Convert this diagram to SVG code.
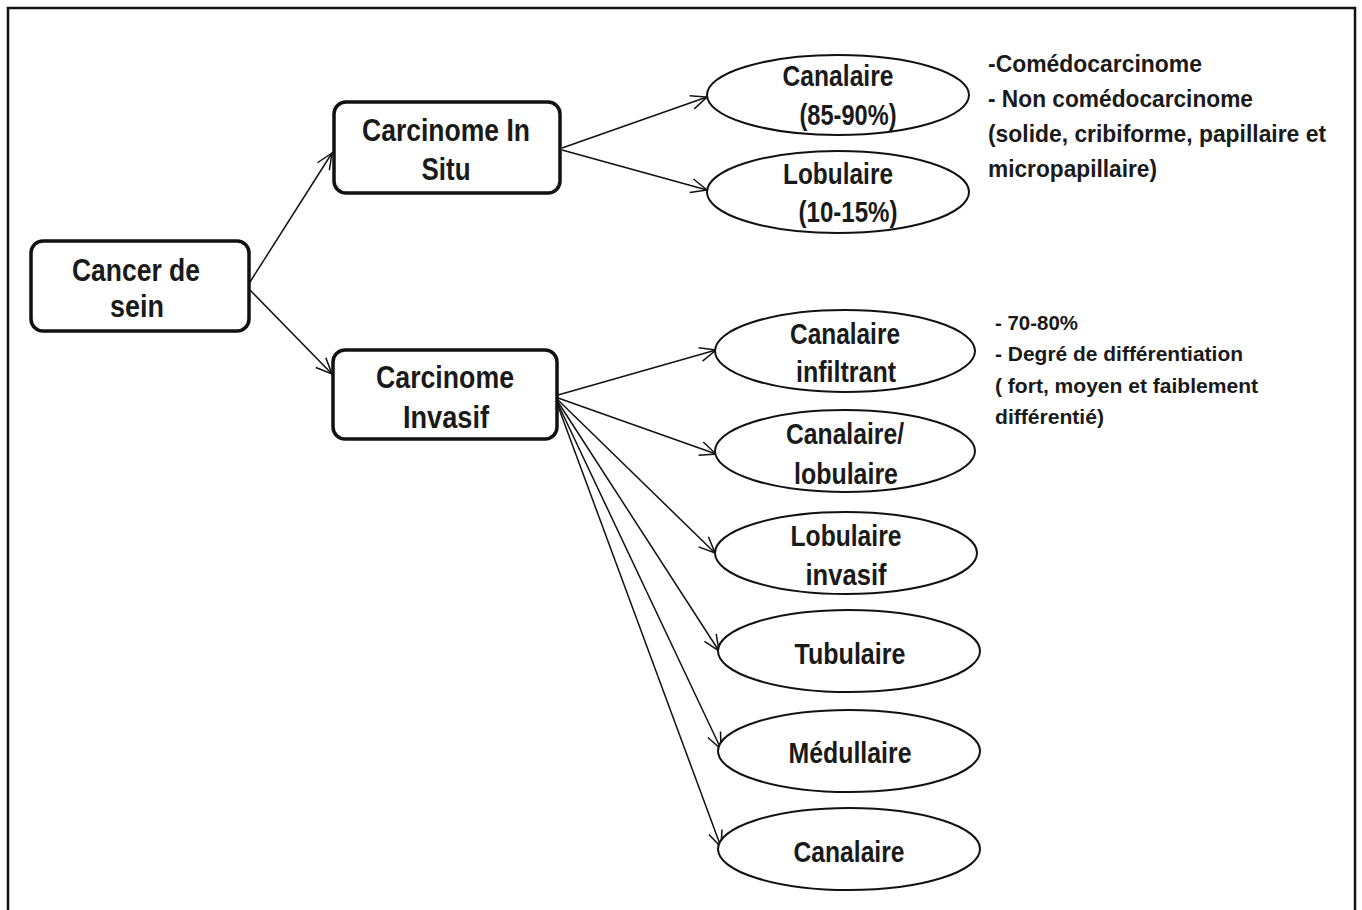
<svg xmlns="http://www.w3.org/2000/svg" width="1362" height="910" viewBox="0 0 1362 910">
<style>
.box{fill:#fff;stroke:#111;stroke-width:3.5}
.ell{fill:#fff;stroke:#111;stroke-width:2}
.t{font-family:"Liberation Sans Narrow","Liberation Sans",Arial,sans-serif;font-weight:bold;fill:#1a1a1a;text-anchor:middle}
.bt{font-size:31px}
.et{font-size:29px}
.a1{font-size:24px;text-anchor:start}
.a2{font-size:21px;text-anchor:start}
.c{stroke:#111;stroke-width:1.5;fill:none}
</style>
<defs>
<marker id="ar" viewBox="0 0 20 20" refX="18" refY="10" markerWidth="20" markerHeight="20" markerUnits="userSpaceOnUse" orient="auto">
<path d="M2,3 L18,10 L2,17" fill="none" stroke="#111" stroke-width="1.5"/>
</marker>
</defs>
<rect x="0" y="0" width="1362" height="910" fill="#fff"/>
<rect x="8" y="8" width="1347" height="910" fill="none" stroke="#111" stroke-width="2.5"/>
<g id="connectors">
<line class="c" x1="250" y1="282" x2="332" y2="153" marker-end="url(#ar)"/>
<line class="c" x1="250" y1="290" x2="332" y2="374" marker-end="url(#ar)"/>
<line class="c" x1="562" y1="148" x2="707" y2="97" marker-end="url(#ar)"/>
<line class="c" x1="562" y1="150" x2="707" y2="190" marker-end="url(#ar)"/>
<line class="c" x1="558" y1="395" x2="716" y2="350" marker-end="url(#ar)"/>
<line class="c" x1="558" y1="398" x2="716" y2="454" marker-end="url(#ar)"/>
<line class="c" x1="558" y1="400" x2="715" y2="553" marker-end="url(#ar)"/>
<line class="c" x1="558" y1="402" x2="719" y2="651" marker-end="url(#ar)"/>
<line class="c" x1="558" y1="404" x2="721" y2="749" marker-end="url(#ar)"/>
<line class="c" x1="558" y1="406" x2="721" y2="847" marker-end="url(#ar)"/>
</g>
<g id="cancer">
<rect class="box" x="31" y="241" width="218" height="90" rx="12" stroke-width="4.5"/>
<text class="t bt" x="136" y="281" textLength="128" lengthAdjust="spacingAndGlyphs">Cancer de</text>
<text class="t bt" x="137" y="317" textLength="54" lengthAdjust="spacingAndGlyphs">sein</text>
</g>
<g id="insitu">
<rect class="box" x="334" y="102" width="226" height="91" rx="12"/>
<text class="t bt" x="446" y="141" textLength="168" lengthAdjust="spacingAndGlyphs">Carcinome In</text>
<text class="t bt" x="446" y="180" textLength="49" lengthAdjust="spacingAndGlyphs">Situ</text>
</g>
<g id="invasif">
<rect class="box" x="333" y="350" width="224" height="89" rx="12"/>
<text class="t bt" x="445" y="388" textLength="138" lengthAdjust="spacingAndGlyphs">Carcinome</text>
<text class="t bt" x="446" y="428" textLength="86" lengthAdjust="spacingAndGlyphs">Invasif</text>
</g>
<g id="e-canalaire-is">
<ellipse class="ell" cx="838" cy="95" rx="131" ry="40"/>
<text class="t et" x="838" y="86" textLength="111" lengthAdjust="spacingAndGlyphs">Canalaire</text>
<text class="t et" x="848" y="125" textLength="97" lengthAdjust="spacingAndGlyphs">(85-90%)</text>
</g>
<g id="e-lobulaire-is">
<ellipse class="ell" cx="838" cy="192" rx="131" ry="41"/>
<text class="t et" x="838" y="184" textLength="110" lengthAdjust="spacingAndGlyphs">Lobulaire</text>
<text class="t et" x="848" y="222" textLength="99" lengthAdjust="spacingAndGlyphs">(10-15%)</text>
</g>
<g id="note-is">
<text class="t a1" x="988" y="72" textLength="214" lengthAdjust="spacingAndGlyphs">-Comédocarcinome</text>
<text class="t a1" x="988" y="107" textLength="265" lengthAdjust="spacingAndGlyphs">- Non comédocarcinome</text>
<text class="t a1" x="988" y="142" textLength="338" lengthAdjust="spacingAndGlyphs">(solide, cribiforme, papillaire et</text>
<text class="t a1" x="988" y="177" textLength="169" lengthAdjust="spacingAndGlyphs">micropapillaire)</text>
</g>
<g id="e-canalaire-inf">
<ellipse class="ell" cx="845" cy="351" rx="130" ry="41"/>
<text class="t et" x="845" y="344" textLength="110" lengthAdjust="spacingAndGlyphs">Canalaire</text>
<text class="t et" x="846" y="382" textLength="100" lengthAdjust="spacingAndGlyphs">infiltrant</text>
</g>
<g id="note-inv">
<text class="t a2" x="995" y="330" textLength="83" lengthAdjust="spacingAndGlyphs">- 70-80%</text>
<text class="t a2" x="995" y="361" textLength="248" lengthAdjust="spacingAndGlyphs">- Degré de différentiation</text>
<text class="t a2" x="995" y="393" textLength="263" lengthAdjust="spacingAndGlyphs">( fort, moyen et faiblement</text>
<text class="t a2" x="995" y="424" textLength="109" lengthAdjust="spacingAndGlyphs">différentié)</text>
</g>
<g id="e-canalaire-lob">
<ellipse class="ell" cx="845" cy="451" rx="130" ry="41"/>
<text class="t et" x="845" y="444" textLength="118" lengthAdjust="spacingAndGlyphs">Canalaire/</text>
<text class="t et" x="846" y="484" textLength="104" lengthAdjust="spacingAndGlyphs">lobulaire</text>
</g>
<g id="e-lobulaire-inv">
<ellipse class="ell" cx="846" cy="553" rx="131" ry="41"/>
<text class="t et" x="846" y="546" textLength="111" lengthAdjust="spacingAndGlyphs">Lobulaire</text>
<text class="t et" x="846" y="585" textLength="81" lengthAdjust="spacingAndGlyphs">invasif</text>
</g>
<g id="e-tubulaire">
<ellipse class="ell" cx="849" cy="651" rx="131" ry="41"/>
<text class="t et" x="850" y="664" textLength="111" lengthAdjust="spacingAndGlyphs">Tubulaire</text>
</g>
<g id="e-medullaire">
<ellipse class="ell" cx="849" cy="751" rx="131" ry="41"/>
<text class="t et" x="850" y="763" textLength="123" lengthAdjust="spacingAndGlyphs">Médullaire</text>
</g>
<g id="e-canalaire">
<ellipse class="ell" cx="849" cy="849" rx="131" ry="41"/>
<text class="t et" x="849" y="862" textLength="111" lengthAdjust="spacingAndGlyphs">Canalaire</text>
</g>
</svg>
